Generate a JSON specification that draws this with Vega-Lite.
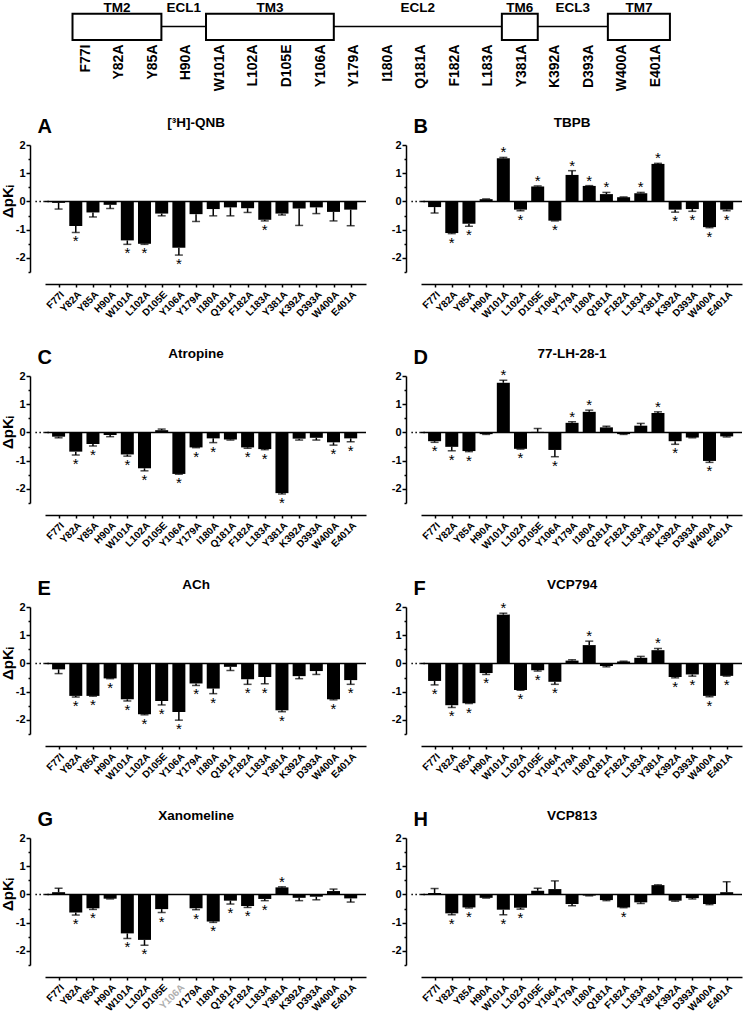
{
"$schema":"https://vega.github.io/schema/vega-lite/v6.json",
"padding":{"left":0,"top":0,"right":0,"bottom":0},
"autosize":{"type":"pad"},
"columns":2,
"align":"each",
"bounds":"flush",
"spacing":{"row":104,"column":55},
"config":{"view":{"stroke":null},"font":"Liberation Sans","mark":{"color":"black"},"text":{"font":"Liberation Sans","color":"black"},"axis":{"domainColor":"black","tickColor":"black","labelColor":"black","labelFont":"Liberation Sans","titleFont":"Liberation Sans","titleColor":"black","labelFontWeight":"bold","grid":false,"domainWidth":1.5,"tickWidth":1.5,"labelOverlap":false,"tickCount":50}},
"datasets":{
"segs":[{"n":"TM2","t":"TM","a":-0.38,"b":2.27},{"n":"ECL1","t":"ECL","a":2.27,"b":3.6},{"n":"TM3","t":"TM","a":3.6,"b":7.41},{"n":"ECL2","t":"ECL","a":7.41,"b":12.42},{"n":"TM6","t":"TM","a":12.42,"b":13.49},{"n":"ECL3","t":"ECL","a":13.49,"b":15.58},{"n":"TM7","t":"TM","a":15.58,"b":17.43}],
"d":[
{"p":"A","i":0,"v":-0.05,"e":-0.27,"s":0},{"p":"A","i":1,"v":-0.87,"e":-1.1,"s":1},{"p":"A","i":2,"v":-0.39,"e":-0.55,"s":0},{"p":"A","i":3,"v":-0.12,"e":-0.25,"s":0},{"p":"A","i":4,"v":-1.38,"e":-1.52,"s":1},{"p":"A","i":5,"v":-1.5,"e":-1.52,"s":1},{"p":"A","i":6,"v":-0.43,"e":-0.51,"s":0},{"p":"A","i":7,"v":-1.64,"e":-1.9,"s":1},{"p":"A","i":8,"v":-0.45,"e":-0.71,"s":0},{"p":"A","i":9,"v":-0.27,"e":-0.51,"s":0},{"p":"A","i":10,"v":-0.21,"e":-0.51,"s":0},{"p":"A","i":11,"v":-0.24,"e":-0.39,"s":0},{"p":"A","i":12,"v":-0.65,"e":-0.69,"s":1},{"p":"A","i":13,"v":-0.43,"e":-0.48,"s":0},{"p":"A","i":14,"v":-0.25,"e":-0.85,"s":0},{"p":"A","i":15,"v":-0.21,"e":-0.43,"s":0},{"p":"A","i":16,"v":-0.37,"e":-0.69,"s":0},{"p":"A","i":17,"v":-0.29,"e":-0.86,"s":0},
{"p":"B","i":0,"v":-0.2,"e":-0.41,"s":0},{"p":"B","i":1,"v":-1.12,"e":-1.14,"s":1},{"p":"B","i":2,"v":-0.79,"e":-0.88,"s":1},{"p":"B","i":3,"v":0.08,"e":0.09,"s":0},{"p":"B","i":4,"v":1.53,"e":1.56,"s":1},{"p":"B","i":5,"v":-0.29,"e":-0.33,"s":1},{"p":"B","i":6,"v":0.53,"e":0.55,"s":1},{"p":"B","i":7,"v":-0.68,"e":-0.69,"s":1},{"p":"B","i":8,"v":0.94,"e":1.09,"s":1},{"p":"B","i":9,"v":0.55,"e":0.56,"s":1},{"p":"B","i":10,"v":0.26,"e":0.32,"s":1},{"p":"B","i":11,"v":0.15,"e":0.16,"s":0},{"p":"B","i":12,"v":0.29,"e":0.32,"s":1},{"p":"B","i":13,"v":1.33,"e":1.35,"s":1},{"p":"B","i":14,"v":-0.29,"e":-0.38,"s":1},{"p":"B","i":15,"v":-0.27,"e":-0.35,"s":1},{"p":"B","i":16,"v":-0.91,"e":-0.93,"s":1},{"p":"B","i":17,"v":-0.29,"e":-0.33,"s":1},
{"p":"C","i":0,"v":-0.15,"e":-0.19,"s":0},{"p":"C","i":1,"v":-0.68,"e":-0.8,"s":1},{"p":"C","i":2,"v":-0.41,"e":-0.48,"s":1},{"p":"C","i":3,"v":-0.09,"e":-0.15,"s":0},{"p":"C","i":4,"v":-0.78,"e":-0.84,"s":1},{"p":"C","i":5,"v":-1.27,"e":-1.36,"s":1},{"p":"C","i":6,"v":0.08,"e":0.12,"s":0},{"p":"C","i":7,"v":-1.47,"e":-1.48,"s":1},{"p":"C","i":8,"v":-0.53,"e":-0.54,"s":1},{"p":"C","i":9,"v":-0.21,"e":-0.36,"s":1},{"p":"C","i":10,"v":-0.25,"e":-0.27,"s":0},{"p":"C","i":11,"v":-0.53,"e":-0.56,"s":1},{"p":"C","i":12,"v":-0.59,"e":-0.61,"s":1},{"p":"C","i":13,"v":-2.15,"e":-2.18,"s":1},{"p":"C","i":14,"v":-0.22,"e":-0.27,"s":0},{"p":"C","i":15,"v":-0.19,"e":-0.27,"s":0},{"p":"C","i":16,"v":-0.35,"e":-0.45,"s":1},{"p":"C","i":17,"v":-0.21,"e":-0.33,"s":1},
{"p":"D","i":0,"v":-0.31,"e":-0.35,"s":1},{"p":"D","i":1,"v":-0.51,"e":-0.65,"s":1},{"p":"D","i":2,"v":-0.66,"e":-0.68,"s":1},{"p":"D","i":3,"v":-0.06,"e":-0.07,"s":0},{"p":"D","i":4,"v":1.76,"e":1.85,"s":1},{"p":"D","i":5,"v":-0.58,"e":-0.59,"s":1},{"p":"D","i":6,"v":0.02,"e":0.14,"s":0},{"p":"D","i":7,"v":-0.62,"e":-0.86,"s":1},{"p":"D","i":8,"v":0.34,"e":0.38,"s":1},{"p":"D","i":9,"v":0.73,"e":0.79,"s":1},{"p":"D","i":10,"v":0.18,"e":0.22,"s":0},{"p":"D","i":11,"v":-0.06,"e":-0.07,"s":0},{"p":"D","i":12,"v":0.24,"e":0.32,"s":0},{"p":"D","i":13,"v":0.69,"e":0.73,"s":1},{"p":"D","i":14,"v":-0.31,"e":-0.42,"s":1},{"p":"D","i":15,"v":-0.18,"e":-0.19,"s":0},{"p":"D","i":16,"v":-1.01,"e":-1.06,"s":1},{"p":"D","i":17,"v":-0.14,"e":-0.16,"s":0},
{"p":"E","i":0,"v":-0.21,"e":-0.36,"s":0},{"p":"E","i":1,"v":-1.15,"e":-1.19,"s":1},{"p":"E","i":2,"v":-1.15,"e":-1.16,"s":1},{"p":"E","i":3,"v":-0.53,"e":-0.54,"s":1},{"p":"E","i":4,"v":-1.27,"e":-1.33,"s":1},{"p":"E","i":5,"v":-1.8,"e":-1.82,"s":1},{"p":"E","i":6,"v":-1.33,"e":-1.47,"s":1},{"p":"E","i":7,"v":-1.72,"e":-2.01,"s":1},{"p":"E","i":8,"v":-0.71,"e":-0.78,"s":1},{"p":"E","i":9,"v":-0.89,"e":-1.07,"s":1},{"p":"E","i":10,"v":-0.12,"e":-0.25,"s":0},{"p":"E","i":11,"v":-0.56,"e":-0.74,"s":1},{"p":"E","i":12,"v":-0.48,"e":-0.72,"s":1},{"p":"E","i":13,"v":-1.66,"e":-1.71,"s":1},{"p":"E","i":14,"v":-0.45,"e":-0.54,"s":0},{"p":"E","i":15,"v":-0.27,"e":-0.39,"s":0},{"p":"E","i":16,"v":-1.27,"e":-1.29,"s":1},{"p":"E","i":17,"v":-0.59,"e":-0.74,"s":1},
{"p":"F","i":0,"v":-0.62,"e":-0.76,"s":1},{"p":"F","i":1,"v":-1.48,"e":-1.56,"s":1},{"p":"F","i":2,"v":-1.41,"e":-1.42,"s":1},{"p":"F","i":3,"v":-0.34,"e":-0.39,"s":1},{"p":"F","i":4,"v":1.73,"e":1.78,"s":1},{"p":"F","i":5,"v":-0.94,"e":-0.95,"s":1},{"p":"F","i":6,"v":-0.24,"e":-0.27,"s":1},{"p":"F","i":7,"v":-0.65,"e":-0.74,"s":1},{"p":"F","i":8,"v":0.1,"e":0.13,"s":0},{"p":"F","i":9,"v":0.65,"e":0.79,"s":1},{"p":"F","i":10,"v":-0.09,"e":-0.12,"s":0},{"p":"F","i":11,"v":0.07,"e":0.08,"s":0},{"p":"F","i":12,"v":0.2,"e":0.25,"s":0},{"p":"F","i":13,"v":0.47,"e":0.53,"s":1},{"p":"F","i":14,"v":-0.48,"e":-0.51,"s":1},{"p":"F","i":15,"v":-0.39,"e":-0.45,"s":1},{"p":"F","i":16,"v":-1.15,"e":-1.18,"s":1},{"p":"F","i":17,"v":-0.44,"e":-0.45,"s":1},
{"p":"G","i":0,"v":0.08,"e":0.22,"s":0},{"p":"G","i":1,"v":-0.64,"e":-0.73,"s":1},{"p":"G","i":2,"v":-0.49,"e":-0.53,"s":1},{"p":"G","i":3,"v":-0.15,"e":-0.16,"s":0},{"p":"G","i":4,"v":-1.38,"e":-1.56,"s":1},{"p":"G","i":5,"v":-1.61,"e":-1.8,"s":1},{"p":"G","i":6,"v":-0.52,"e":-0.64,"s":1},{"p":"G","i":8,"v":-0.49,"e":-0.54,"s":1},{"p":"G","i":9,"v":-0.96,"e":-0.99,"s":1},{"p":"G","i":10,"v":-0.22,"e":-0.34,"s":1},{"p":"G","i":11,"v":-0.41,"e":-0.46,"s":1},{"p":"G","i":12,"v":-0.16,"e":-0.22,"s":1},{"p":"G","i":13,"v":0.25,"e":0.27,"s":1},{"p":"G","i":14,"v":-0.12,"e":-0.22,"s":0},{"p":"G","i":15,"v":-0.08,"e":-0.19,"s":0},{"p":"G","i":16,"v":0.12,"e":0.19,"s":0},{"p":"G","i":17,"v":-0.14,"e":-0.27,"s":0},
{"p":"H","i":0,"v":0.05,"e":0.21,"s":0},{"p":"H","i":1,"v":-0.67,"e":-0.72,"s":1},{"p":"H","i":2,"v":-0.46,"e":-0.48,"s":1},{"p":"H","i":3,"v":-0.12,"e":-0.13,"s":0},{"p":"H","i":4,"v":-0.54,"e":-0.72,"s":1},{"p":"H","i":5,"v":-0.47,"e":-0.52,"s":1},{"p":"H","i":6,"v":0.13,"e":0.22,"s":0},{"p":"H","i":7,"v":0.19,"e":0.48,"s":0},{"p":"H","i":8,"v":-0.34,"e":-0.4,"s":0},{"p":"H","i":9,"v":-0.04,"e":-0.05,"s":0},{"p":"H","i":10,"v":-0.2,"e":-0.22,"s":0},{"p":"H","i":11,"v":-0.46,"e":-0.47,"s":1},{"p":"H","i":12,"v":-0.28,"e":-0.32,"s":0},{"p":"H","i":13,"v":0.33,"e":0.34,"s":0},{"p":"H","i":14,"v":-0.22,"e":-0.24,"s":0},{"p":"H","i":15,"v":-0.13,"e":-0.16,"s":0},{"p":"H","i":16,"v":-0.34,"e":-0.36,"s":0},{"p":"H","i":17,"v":0.08,"e":0.45,"s":0}
]},
"concat":[
{"width":321,"height":40,"data":{"name":"segs"},
 "layer":[
  {"transform":[{"filter":"datum.t=='ECL'"}],"mark":{"type":"rule","strokeWidth":1.5,"color":"black"},
   "encoding":{"x":{"field":"a","type":"quantitative","scale":{"domain":[-1.2,19.4],"range":[0,691],"nice":false,"zero":false},"axis":{"values":[0,1,2,3,4,5,6,7,8,9,10,11,12,13,14,15,16,17],"tickCount":50,"labelExpr":"['F77I','Y82A','Y85A','H90A','W101A','L102A','D105E','Y106A','Y179A','I180A','Q181A','F182A','L183A','Y381A','K392A','D393A','W400A','E401A'][datum.value]","labelAngle":-90,"labelFontSize":14,"labelPadding":3,"ticks":false,"domain":false,"title":null,"labelOverlap":false}},
     "x2":{"field":"b"},"y":{"datum":0.36,"type":"quantitative","scale":{"domain":[0,1],"nice":false},"axis":null}}},
  {"transform":[{"filter":"datum.t=='TM'"}],"mark":{"type":"rect","fill":"white","stroke":"black","strokeWidth":2},
   "encoding":{"x":{"field":"a","type":"quantitative"},"x2":{"field":"b"},"y":{"datum":0.025,"type":"quantitative","axis":null},"y2":{"datum":0.68}}},
  {"transform":[{"calculate":"(datum.a+datum.b)/2","as":"m"}],"mark":{"type":"text","color":"black","fontSize":13.5,"fontWeight":"bold","baseline":"middle","align":"center"},
   "encoding":{"x":{"field":"m","type":"quantitative"},"y":{"datum":0.83,"type":"quantitative","axis":null},"text":{"field":"n"}}}
 ]},
{"width":321,"height":40,"data":{"values":[{"z":0}]},"mark":{"type":"text","text":""},"encoding":{}},
{"width":321,"height":127,"data":{"name":"d"},"transform":[{"filter":"datum.p=='A'"}],
 "layer":[
  {"mark":{"type":"bar","orient":"vertical","size":13,"color":"black"},"encoding":{"x":{"field":"i","type":"quantitative","scale":{"domain":[-0.5,17.6],"nice":false,"zero":false},"axis":{"values":[0,1,2,3,4,5,6,7,8,9,10,11,12,13,14,15,16,17],"tickCount":50,"labelExpr":"['F77I','Y82A','Y85A','H90A','W101A','L102A','D105E','Y106A','Y179A','I180A','Q181A','F182A','L183A','Y381A','K392A','D393A','W400A','E401A'][datum.value]","labelAngle":-45,"labelFontSize":10,"labelPadding":2,"tickSize":3,"offset":12,"title":null,"labelOverlap":false}},"y":{"field":"v","type":"quantitative","scale":{"domain":[-2.5,2],"nice":false},"axis":{"values":[-2.5,-2,-1.5,-1,-0.5,0,0.5,1,1.5,2],"tickCount":50,"labelExpr":"datum.value%1==0 ? ''+datum.value : ''","tickSize":{"condition":{"test":"datum.value%1!=0","value":2},"value":4},"offset":15,"labelFontSize":11,"labelPadding":1,"title":"ΔpKᵢ","titleFontSize":15,"titleFontWeight":"bold","titlePadding":0,"titleY":56,"labelOverlap":false}}}},
  {"mark":{"type":"rule","color":"black","strokeWidth":1.5},"encoding":{"x":{"field":"i","type":"quantitative"},"y":{"field":"v","type":"quantitative"},"y2":{"field":"e"}}},
  {"mark":{"type":"tick","orient":"horizontal","color":"black","size":8,"thickness":1.5},"encoding":{"x":{"field":"i","type":"quantitative"},"y":{"field":"e","type":"quantitative"}}},
  {"transform":[{"filter":"datum.s==1 && datum.e<0"}],"mark":{"type":"text","color":"black","text":"*","fontSize":15,"baseline":"alphabetic","dy":14},"encoding":{"x":{"field":"i","type":"quantitative"},"y":{"field":"e","type":"quantitative"}}},
  {"transform":[{"filter":"datum.s==1 && datum.e>0"}],"mark":{"type":"text","color":"black","text":"*","fontSize":15,"baseline":"alphabetic","dy":0},"encoding":{"x":{"field":"i","type":"quantitative"},"y":{"field":"e","type":"quantitative"}}},
  {"transform":[{"filter":"datum.i==0"}],"mark":{"type":"rule","strokeWidth":1.5,"strokeDash":[1.5,2.5],"color":"black"},"encoding":{"x":{"datum":-1.35},"x2":{"datum":-0.5},"y":{"datum":0}}},
  {"transform":[{"filter":"datum.i==0"}],"mark":{"type":"rule","strokeWidth":1.5,"color":"black"},"encoding":{"y":{"datum":0}}},
  {"transform":[{"filter":"datum.i==0"}],"mark":{"type":"text","color":"black","text":"A","fontSize":20,"fontWeight":"bold","align":"left","baseline":"alphabetic"},"encoding":{"x":{"datum":-1.23},"y":{"datum":2.42}}},
  {"transform":[{"filter":"datum.i==0"}],"mark":{"type":"text","color":"black","text":"[³H]-QNB","fontSize":13.5,"fontWeight":"bold","align":"center","baseline":"alphabetic"},"encoding":{"x":{"datum":8.0},"y":{"datum":2.63}}}
 ]},
{"width":321,"height":127,"data":{"name":"d"},"transform":[{"filter":"datum.p=='B'"}],
 "layer":[
  {"mark":{"type":"bar","orient":"vertical","size":13,"color":"black"},"encoding":{"x":{"field":"i","type":"quantitative","scale":{"domain":[-0.5,17.6],"nice":false,"zero":false},"axis":{"values":[0,1,2,3,4,5,6,7,8,9,10,11,12,13,14,15,16,17],"tickCount":50,"labelExpr":"['F77I','Y82A','Y85A','H90A','W101A','L102A','D105E','Y106A','Y179A','I180A','Q181A','F182A','L183A','Y381A','K392A','D393A','W400A','E401A'][datum.value]","labelAngle":-45,"labelFontSize":10,"labelPadding":2,"tickSize":3,"offset":12,"title":null,"labelOverlap":false}},"y":{"field":"v","type":"quantitative","scale":{"domain":[-2.5,2],"nice":false},"axis":{"values":[-2.5,-2,-1.5,-1,-0.5,0,0.5,1,1.5,2],"tickCount":50,"labelExpr":"datum.value%1==0 ? ''+datum.value : ''","tickSize":{"condition":{"test":"datum.value%1!=0","value":2},"value":4},"offset":15,"labelFontSize":11,"labelPadding":1,"title":null,"labelOverlap":false}}}},
  {"mark":{"type":"rule","color":"black","strokeWidth":1.5},"encoding":{"x":{"field":"i","type":"quantitative"},"y":{"field":"v","type":"quantitative"},"y2":{"field":"e"}}},
  {"mark":{"type":"tick","orient":"horizontal","color":"black","size":8,"thickness":1.5},"encoding":{"x":{"field":"i","type":"quantitative"},"y":{"field":"e","type":"quantitative"}}},
  {"transform":[{"filter":"datum.s==1 && datum.e<0"}],"mark":{"type":"text","color":"black","text":"*","fontSize":15,"baseline":"alphabetic","dy":14},"encoding":{"x":{"field":"i","type":"quantitative"},"y":{"field":"e","type":"quantitative"}}},
  {"transform":[{"filter":"datum.s==1 && datum.e>0"}],"mark":{"type":"text","color":"black","text":"*","fontSize":15,"baseline":"alphabetic","dy":0},"encoding":{"x":{"field":"i","type":"quantitative"},"y":{"field":"e","type":"quantitative"}}},
  {"transform":[{"filter":"datum.i==0"}],"mark":{"type":"rule","strokeWidth":1.5,"strokeDash":[1.5,2.5],"color":"black"},"encoding":{"x":{"datum":-1.35},"x2":{"datum":-0.5},"y":{"datum":0}}},
  {"transform":[{"filter":"datum.i==0"}],"mark":{"type":"rule","strokeWidth":1.5,"color":"black"},"encoding":{"y":{"datum":0}}},
  {"transform":[{"filter":"datum.i==0"}],"mark":{"type":"text","color":"black","text":"B","fontSize":20,"fontWeight":"bold","align":"left","baseline":"alphabetic"},"encoding":{"x":{"datum":-1.23},"y":{"datum":2.42}}},
  {"transform":[{"filter":"datum.i==0"}],"mark":{"type":"text","color":"black","text":"TBPB","fontSize":13.5,"fontWeight":"bold","align":"center","baseline":"alphabetic"},"encoding":{"x":{"datum":8.0},"y":{"datum":2.63}}}
 ]},
{"width":321,"height":127,"data":{"name":"d"},"transform":[{"filter":"datum.p=='C'"}],
 "layer":[
  {"mark":{"type":"bar","orient":"vertical","size":13,"color":"black"},"encoding":{"x":{"field":"i","type":"quantitative","scale":{"domain":[-0.5,17.6],"nice":false,"zero":false},"axis":{"values":[0,1,2,3,4,5,6,7,8,9,10,11,12,13,14,15,16,17],"tickCount":50,"labelExpr":"['F77I','Y82A','Y85A','H90A','W101A','L102A','D105E','Y106A','Y179A','I180A','Q181A','F182A','L183A','Y381A','K392A','D393A','W400A','E401A'][datum.value]","labelAngle":-45,"labelFontSize":10,"labelPadding":2,"tickSize":3,"offset":12,"title":null,"labelOverlap":false}},"y":{"field":"v","type":"quantitative","scale":{"domain":[-2.5,2],"nice":false},"axis":{"values":[-2.5,-2,-1.5,-1,-0.5,0,0.5,1,1.5,2],"tickCount":50,"labelExpr":"datum.value%1==0 ? ''+datum.value : ''","tickSize":{"condition":{"test":"datum.value%1!=0","value":2},"value":4},"offset":15,"labelFontSize":11,"labelPadding":1,"title":"ΔpKᵢ","titleFontSize":15,"titleFontWeight":"bold","titlePadding":0,"titleY":56,"labelOverlap":false}}}},
  {"mark":{"type":"rule","color":"black","strokeWidth":1.5},"encoding":{"x":{"field":"i","type":"quantitative"},"y":{"field":"v","type":"quantitative"},"y2":{"field":"e"}}},
  {"mark":{"type":"tick","orient":"horizontal","color":"black","size":8,"thickness":1.5},"encoding":{"x":{"field":"i","type":"quantitative"},"y":{"field":"e","type":"quantitative"}}},
  {"transform":[{"filter":"datum.s==1 && datum.e<0"}],"mark":{"type":"text","color":"black","text":"*","fontSize":15,"baseline":"alphabetic","dy":14},"encoding":{"x":{"field":"i","type":"quantitative"},"y":{"field":"e","type":"quantitative"}}},
  {"transform":[{"filter":"datum.s==1 && datum.e>0"}],"mark":{"type":"text","color":"black","text":"*","fontSize":15,"baseline":"alphabetic","dy":0},"encoding":{"x":{"field":"i","type":"quantitative"},"y":{"field":"e","type":"quantitative"}}},
  {"transform":[{"filter":"datum.i==0"}],"mark":{"type":"rule","strokeWidth":1.5,"strokeDash":[1.5,2.5],"color":"black"},"encoding":{"x":{"datum":-1.35},"x2":{"datum":-0.5},"y":{"datum":0}}},
  {"transform":[{"filter":"datum.i==0"}],"mark":{"type":"rule","strokeWidth":1.5,"color":"black"},"encoding":{"y":{"datum":0}}},
  {"transform":[{"filter":"datum.i==0"}],"mark":{"type":"text","color":"black","text":"C","fontSize":20,"fontWeight":"bold","align":"left","baseline":"alphabetic"},"encoding":{"x":{"datum":-1.23},"y":{"datum":2.42}}},
  {"transform":[{"filter":"datum.i==0"}],"mark":{"type":"text","color":"black","text":"Atropine","fontSize":13.5,"fontWeight":"bold","align":"center","baseline":"alphabetic"},"encoding":{"x":{"datum":8.0},"y":{"datum":2.63}}}
 ]},
{"width":321,"height":127,"data":{"name":"d"},"transform":[{"filter":"datum.p=='D'"}],
 "layer":[
  {"mark":{"type":"bar","orient":"vertical","size":13,"color":"black"},"encoding":{"x":{"field":"i","type":"quantitative","scale":{"domain":[-0.5,17.6],"nice":false,"zero":false},"axis":{"values":[0,1,2,3,4,5,6,7,8,9,10,11,12,13,14,15,16,17],"tickCount":50,"labelExpr":"['F77I','Y82A','Y85A','H90A','W101A','L102A','D105E','Y106A','Y179A','I180A','Q181A','F182A','L183A','Y381A','K392A','D393A','W400A','E401A'][datum.value]","labelAngle":-45,"labelFontSize":10,"labelPadding":2,"tickSize":3,"offset":12,"title":null,"labelOverlap":false}},"y":{"field":"v","type":"quantitative","scale":{"domain":[-2.5,2],"nice":false},"axis":{"values":[-2.5,-2,-1.5,-1,-0.5,0,0.5,1,1.5,2],"tickCount":50,"labelExpr":"datum.value%1==0 ? ''+datum.value : ''","tickSize":{"condition":{"test":"datum.value%1!=0","value":2},"value":4},"offset":15,"labelFontSize":11,"labelPadding":1,"title":null,"labelOverlap":false}}}},
  {"mark":{"type":"rule","color":"black","strokeWidth":1.5},"encoding":{"x":{"field":"i","type":"quantitative"},"y":{"field":"v","type":"quantitative"},"y2":{"field":"e"}}},
  {"mark":{"type":"tick","orient":"horizontal","color":"black","size":8,"thickness":1.5},"encoding":{"x":{"field":"i","type":"quantitative"},"y":{"field":"e","type":"quantitative"}}},
  {"transform":[{"filter":"datum.s==1 && datum.e<0"}],"mark":{"type":"text","color":"black","text":"*","fontSize":15,"baseline":"alphabetic","dy":14},"encoding":{"x":{"field":"i","type":"quantitative"},"y":{"field":"e","type":"quantitative"}}},
  {"transform":[{"filter":"datum.s==1 && datum.e>0"}],"mark":{"type":"text","color":"black","text":"*","fontSize":15,"baseline":"alphabetic","dy":0},"encoding":{"x":{"field":"i","type":"quantitative"},"y":{"field":"e","type":"quantitative"}}},
  {"transform":[{"filter":"datum.i==0"}],"mark":{"type":"rule","strokeWidth":1.5,"strokeDash":[1.5,2.5],"color":"black"},"encoding":{"x":{"datum":-1.35},"x2":{"datum":-0.5},"y":{"datum":0}}},
  {"transform":[{"filter":"datum.i==0"}],"mark":{"type":"rule","strokeWidth":1.5,"color":"black"},"encoding":{"y":{"datum":0}}},
  {"transform":[{"filter":"datum.i==0"}],"mark":{"type":"text","color":"black","text":"D","fontSize":20,"fontWeight":"bold","align":"left","baseline":"alphabetic"},"encoding":{"x":{"datum":-1.23},"y":{"datum":2.42}}},
  {"transform":[{"filter":"datum.i==0"}],"mark":{"type":"text","color":"black","text":"77-LH-28-1","fontSize":13.5,"fontWeight":"bold","align":"center","baseline":"alphabetic"},"encoding":{"x":{"datum":8.0},"y":{"datum":2.63}}}
 ]},
{"width":321,"height":127,"data":{"name":"d"},"transform":[{"filter":"datum.p=='E'"}],
 "layer":[
  {"mark":{"type":"bar","orient":"vertical","size":13,"color":"black"},"encoding":{"x":{"field":"i","type":"quantitative","scale":{"domain":[-0.5,17.6],"nice":false,"zero":false},"axis":{"values":[0,1,2,3,4,5,6,7,8,9,10,11,12,13,14,15,16,17],"tickCount":50,"labelExpr":"['F77I','Y82A','Y85A','H90A','W101A','L102A','D105E','Y106A','Y179A','I180A','Q181A','F182A','L183A','Y381A','K392A','D393A','W400A','E401A'][datum.value]","labelAngle":-45,"labelFontSize":10,"labelPadding":2,"tickSize":3,"offset":12,"title":null,"labelOverlap":false}},"y":{"field":"v","type":"quantitative","scale":{"domain":[-2.5,2],"nice":false},"axis":{"values":[-2.5,-2,-1.5,-1,-0.5,0,0.5,1,1.5,2],"tickCount":50,"labelExpr":"datum.value%1==0 ? ''+datum.value : ''","tickSize":{"condition":{"test":"datum.value%1!=0","value":2},"value":4},"offset":15,"labelFontSize":11,"labelPadding":1,"title":"ΔpKᵢ","titleFontSize":15,"titleFontWeight":"bold","titlePadding":0,"titleY":56,"labelOverlap":false}}}},
  {"mark":{"type":"rule","color":"black","strokeWidth":1.5},"encoding":{"x":{"field":"i","type":"quantitative"},"y":{"field":"v","type":"quantitative"},"y2":{"field":"e"}}},
  {"mark":{"type":"tick","orient":"horizontal","color":"black","size":8,"thickness":1.5},"encoding":{"x":{"field":"i","type":"quantitative"},"y":{"field":"e","type":"quantitative"}}},
  {"transform":[{"filter":"datum.s==1 && datum.e<0"}],"mark":{"type":"text","color":"black","text":"*","fontSize":15,"baseline":"alphabetic","dy":14},"encoding":{"x":{"field":"i","type":"quantitative"},"y":{"field":"e","type":"quantitative"}}},
  {"transform":[{"filter":"datum.s==1 && datum.e>0"}],"mark":{"type":"text","color":"black","text":"*","fontSize":15,"baseline":"alphabetic","dy":0},"encoding":{"x":{"field":"i","type":"quantitative"},"y":{"field":"e","type":"quantitative"}}},
  {"transform":[{"filter":"datum.i==0"}],"mark":{"type":"rule","strokeWidth":1.5,"strokeDash":[1.5,2.5],"color":"black"},"encoding":{"x":{"datum":-1.35},"x2":{"datum":-0.5},"y":{"datum":0}}},
  {"transform":[{"filter":"datum.i==0"}],"mark":{"type":"rule","strokeWidth":1.5,"color":"black"},"encoding":{"y":{"datum":0}}},
  {"transform":[{"filter":"datum.i==0"}],"mark":{"type":"text","color":"black","text":"E","fontSize":20,"fontWeight":"bold","align":"left","baseline":"alphabetic"},"encoding":{"x":{"datum":-1.23},"y":{"datum":2.42}}},
  {"transform":[{"filter":"datum.i==0"}],"mark":{"type":"text","color":"black","text":"ACh","fontSize":13.5,"fontWeight":"bold","align":"center","baseline":"alphabetic"},"encoding":{"x":{"datum":8.0},"y":{"datum":2.63}}}
 ]},
{"width":321,"height":127,"data":{"name":"d"},"transform":[{"filter":"datum.p=='F'"}],
 "layer":[
  {"mark":{"type":"bar","orient":"vertical","size":13,"color":"black"},"encoding":{"x":{"field":"i","type":"quantitative","scale":{"domain":[-0.5,17.6],"nice":false,"zero":false},"axis":{"values":[0,1,2,3,4,5,6,7,8,9,10,11,12,13,14,15,16,17],"tickCount":50,"labelExpr":"['F77I','Y82A','Y85A','H90A','W101A','L102A','D105E','Y106A','Y179A','I180A','Q181A','F182A','L183A','Y381A','K392A','D393A','W400A','E401A'][datum.value]","labelAngle":-45,"labelFontSize":10,"labelPadding":2,"tickSize":3,"offset":12,"title":null,"labelOverlap":false}},"y":{"field":"v","type":"quantitative","scale":{"domain":[-2.5,2],"nice":false},"axis":{"values":[-2.5,-2,-1.5,-1,-0.5,0,0.5,1,1.5,2],"tickCount":50,"labelExpr":"datum.value%1==0 ? ''+datum.value : ''","tickSize":{"condition":{"test":"datum.value%1!=0","value":2},"value":4},"offset":15,"labelFontSize":11,"labelPadding":1,"title":null,"labelOverlap":false}}}},
  {"mark":{"type":"rule","color":"black","strokeWidth":1.5},"encoding":{"x":{"field":"i","type":"quantitative"},"y":{"field":"v","type":"quantitative"},"y2":{"field":"e"}}},
  {"mark":{"type":"tick","orient":"horizontal","color":"black","size":8,"thickness":1.5},"encoding":{"x":{"field":"i","type":"quantitative"},"y":{"field":"e","type":"quantitative"}}},
  {"transform":[{"filter":"datum.s==1 && datum.e<0"}],"mark":{"type":"text","color":"black","text":"*","fontSize":15,"baseline":"alphabetic","dy":14},"encoding":{"x":{"field":"i","type":"quantitative"},"y":{"field":"e","type":"quantitative"}}},
  {"transform":[{"filter":"datum.s==1 && datum.e>0"}],"mark":{"type":"text","color":"black","text":"*","fontSize":15,"baseline":"alphabetic","dy":0},"encoding":{"x":{"field":"i","type":"quantitative"},"y":{"field":"e","type":"quantitative"}}},
  {"transform":[{"filter":"datum.i==0"}],"mark":{"type":"rule","strokeWidth":1.5,"strokeDash":[1.5,2.5],"color":"black"},"encoding":{"x":{"datum":-1.35},"x2":{"datum":-0.5},"y":{"datum":0}}},
  {"transform":[{"filter":"datum.i==0"}],"mark":{"type":"rule","strokeWidth":1.5,"color":"black"},"encoding":{"y":{"datum":0}}},
  {"transform":[{"filter":"datum.i==0"}],"mark":{"type":"text","color":"black","text":"F","fontSize":20,"fontWeight":"bold","align":"left","baseline":"alphabetic"},"encoding":{"x":{"datum":-1.23},"y":{"datum":2.42}}},
  {"transform":[{"filter":"datum.i==0"}],"mark":{"type":"text","color":"black","text":"VCP794","fontSize":13.5,"fontWeight":"bold","align":"center","baseline":"alphabetic"},"encoding":{"x":{"datum":8.0},"y":{"datum":2.63}}}
 ]},
{"width":321,"height":127,"data":{"name":"d"},"transform":[{"filter":"datum.p=='G'"}],
 "layer":[
  {"mark":{"type":"bar","orient":"vertical","size":13,"color":"black"},"encoding":{"x":{"field":"i","type":"quantitative","scale":{"domain":[-0.5,17.6],"nice":false,"zero":false},"axis":{"values":[0,1,2,3,4,5,6,7,8,9,10,11,12,13,14,15,16,17],"tickCount":50,"labelExpr":"['F77I','Y82A','Y85A','H90A','W101A','L102A','D105E','Y106A','Y179A','I180A','Q181A','F182A','L183A','Y381A','K392A','D393A','W400A','E401A'][datum.value]","labelColor":{"condition":{"test":"datum.value==7","value":"#b0b0b0"},"value":"black"},"labelAngle":-45,"labelFontSize":10,"labelPadding":2,"tickSize":3,"offset":12,"title":null,"labelOverlap":false}},"y":{"field":"v","type":"quantitative","scale":{"domain":[-2.5,2],"nice":false},"axis":{"values":[-2.5,-2,-1.5,-1,-0.5,0,0.5,1,1.5,2],"tickCount":50,"labelExpr":"datum.value%1==0 ? ''+datum.value : ''","tickSize":{"condition":{"test":"datum.value%1!=0","value":2},"value":4},"offset":15,"labelFontSize":11,"labelPadding":1,"title":"ΔpKᵢ","titleFontSize":15,"titleFontWeight":"bold","titlePadding":0,"titleY":56,"labelOverlap":false}}}},
  {"mark":{"type":"rule","color":"black","strokeWidth":1.5},"encoding":{"x":{"field":"i","type":"quantitative"},"y":{"field":"v","type":"quantitative"},"y2":{"field":"e"}}},
  {"mark":{"type":"tick","orient":"horizontal","color":"black","size":8,"thickness":1.5},"encoding":{"x":{"field":"i","type":"quantitative"},"y":{"field":"e","type":"quantitative"}}},
  {"transform":[{"filter":"datum.s==1 && datum.e<0"}],"mark":{"type":"text","color":"black","text":"*","fontSize":15,"baseline":"alphabetic","dy":14},"encoding":{"x":{"field":"i","type":"quantitative"},"y":{"field":"e","type":"quantitative"}}},
  {"transform":[{"filter":"datum.s==1 && datum.e>0"}],"mark":{"type":"text","color":"black","text":"*","fontSize":15,"baseline":"alphabetic","dy":0},"encoding":{"x":{"field":"i","type":"quantitative"},"y":{"field":"e","type":"quantitative"}}},
  {"transform":[{"filter":"datum.i==0"}],"mark":{"type":"rule","strokeWidth":1.5,"strokeDash":[1.5,2.5],"color":"black"},"encoding":{"x":{"datum":-1.35},"x2":{"datum":-0.5},"y":{"datum":0}}},
  {"transform":[{"filter":"datum.i==0"}],"mark":{"type":"rule","strokeWidth":1.5,"color":"black"},"encoding":{"y":{"datum":0}}},
  {"transform":[{"filter":"datum.i==0"}],"mark":{"type":"text","color":"black","text":"G","fontSize":20,"fontWeight":"bold","align":"left","baseline":"alphabetic"},"encoding":{"x":{"datum":-1.23},"y":{"datum":2.42}}},
  {"transform":[{"filter":"datum.i==0"}],"mark":{"type":"text","color":"black","text":"Xanomeline","fontSize":13.5,"fontWeight":"bold","align":"center","baseline":"alphabetic"},"encoding":{"x":{"datum":8.0},"y":{"datum":2.63}}}
 ]},
{"width":321,"height":127,"data":{"name":"d"},"transform":[{"filter":"datum.p=='H'"}],
 "layer":[
  {"mark":{"type":"bar","orient":"vertical","size":13,"color":"black"},"encoding":{"x":{"field":"i","type":"quantitative","scale":{"domain":[-0.5,17.6],"nice":false,"zero":false},"axis":{"values":[0,1,2,3,4,5,6,7,8,9,10,11,12,13,14,15,16,17],"tickCount":50,"labelExpr":"['F77I','Y82A','Y85A','H90A','W101A','L102A','D105E','Y106A','Y179A','I180A','Q181A','F182A','L183A','Y381A','K392A','D393A','W400A','E401A'][datum.value]","labelAngle":-45,"labelFontSize":10,"labelPadding":2,"tickSize":3,"offset":12,"title":null,"labelOverlap":false}},"y":{"field":"v","type":"quantitative","scale":{"domain":[-2.5,2],"nice":false},"axis":{"values":[-2.5,-2,-1.5,-1,-0.5,0,0.5,1,1.5,2],"tickCount":50,"labelExpr":"datum.value%1==0 ? ''+datum.value : ''","tickSize":{"condition":{"test":"datum.value%1!=0","value":2},"value":4},"offset":15,"labelFontSize":11,"labelPadding":1,"title":null,"labelOverlap":false}}}},
  {"mark":{"type":"rule","color":"black","strokeWidth":1.5},"encoding":{"x":{"field":"i","type":"quantitative"},"y":{"field":"v","type":"quantitative"},"y2":{"field":"e"}}},
  {"mark":{"type":"tick","orient":"horizontal","color":"black","size":8,"thickness":1.5},"encoding":{"x":{"field":"i","type":"quantitative"},"y":{"field":"e","type":"quantitative"}}},
  {"transform":[{"filter":"datum.s==1 && datum.e<0"}],"mark":{"type":"text","color":"black","text":"*","fontSize":15,"baseline":"alphabetic","dy":14},"encoding":{"x":{"field":"i","type":"quantitative"},"y":{"field":"e","type":"quantitative"}}},
  {"transform":[{"filter":"datum.s==1 && datum.e>0"}],"mark":{"type":"text","color":"black","text":"*","fontSize":15,"baseline":"alphabetic","dy":0},"encoding":{"x":{"field":"i","type":"quantitative"},"y":{"field":"e","type":"quantitative"}}},
  {"transform":[{"filter":"datum.i==0"}],"mark":{"type":"rule","strokeWidth":1.5,"strokeDash":[1.5,2.5],"color":"black"},"encoding":{"x":{"datum":-1.35},"x2":{"datum":-0.5},"y":{"datum":0}}},
  {"transform":[{"filter":"datum.i==0"}],"mark":{"type":"rule","strokeWidth":1.5,"color":"black"},"encoding":{"y":{"datum":0}}},
  {"transform":[{"filter":"datum.i==0"}],"mark":{"type":"text","color":"black","text":"H","fontSize":20,"fontWeight":"bold","align":"left","baseline":"alphabetic"},"encoding":{"x":{"datum":-1.23},"y":{"datum":2.42}}},
  {"transform":[{"filter":"datum.i==0"}],"mark":{"type":"text","color":"black","text":"VCP813","fontSize":13.5,"fontWeight":"bold","align":"center","baseline":"alphabetic"},"encoding":{"x":{"datum":8.0},"y":{"datum":2.63}}}
 ]}
]
}
